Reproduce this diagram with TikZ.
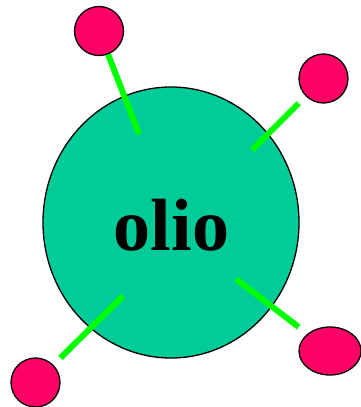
\documentclass[tikz,border=0pt]{standalone}
\usepackage{fontspec}
\setmainfont{Liberation Serif}
\usepackage{xcolor}
\usetikzlibrary{shapes.geometric}
\definecolor{oilgreen}{HTML}{00CC99}
\definecolor{headred}{HTML}{FF0066}
\definecolor{tailgreen}{HTML}{00FF00}

\begin{document}
\begin{tikzpicture}[x=1pt,y=-1pt,
		head/.style={draw,ellipse,line width=1.3pt,fill=headred,inner sep=0pt,minimum width=49pt,minimum height=49pt},
		tail/.style={line width=6pt,tailgreen}]
		
		\useasboundingbox (0,0) rectangle (361,407);
		
		\node[draw,ellipse,line width=1.3pt,fill=oilgreen,minimum width=256pt,minimum height=271pt] (drop) at (171,222.5) {};
		\node[anchor=base,inner sep=0pt,font=\bfseries\fontsize{74}{80}\selectfont] (label) at (171.5,250) {olio};
		
		\node[head] (h1) at (99,31) {};
		\node[head] (h2) at (323.5,78.5) {};
		\node[head] (h3) at (35.5,382.5) {};
		\node[head,minimum width=62pt,minimum height=48pt] (h4) at (330,351) {};
		
		\coordinate (t1) at (139,134);
		\coordinate (t2) at (252,150);
		\coordinate (t3) at (123,296);
		\coordinate (t4) at (236,279);
		
		\draw[tail] (t1)--(h1);
		\draw[tail,shorten >=10pt] (t2)--(h2);
		\draw[tail,shorten >=10pt] (t3)--(h3);
		\draw[tail,shorten >=11pt] (t4)--(h4);
		
	\end{tikzpicture}
\end{document}
